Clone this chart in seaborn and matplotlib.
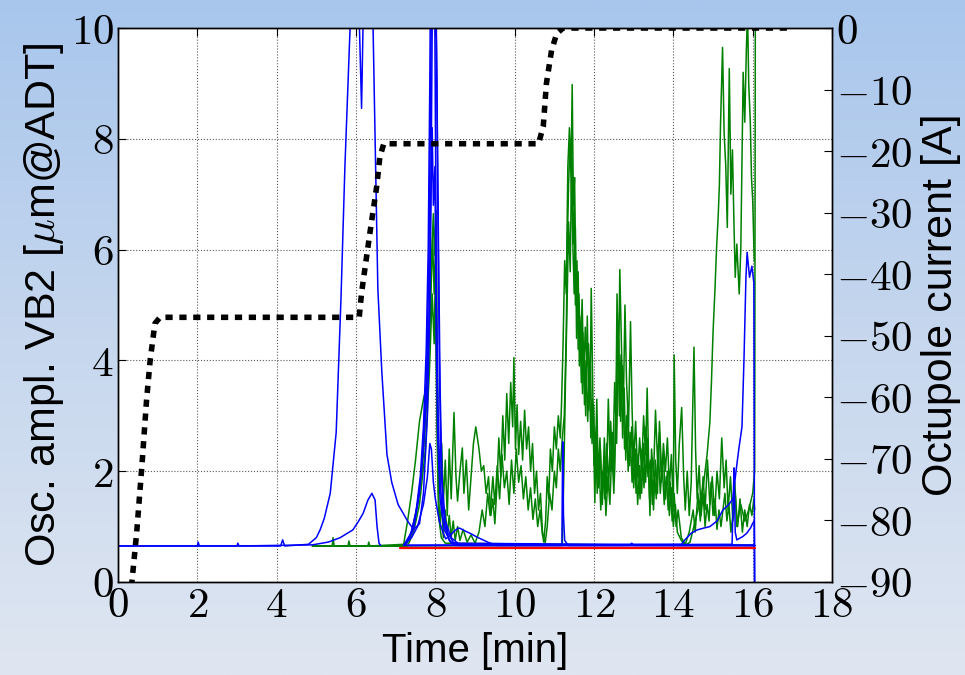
import numpy as np
import pandas as pd
import matplotlib
matplotlib.use("Agg")
import matplotlib.pyplot as plt
from matplotlib.colors import LinearSegmentedColormap
from matplotlib.ticker import FuncFormatter
import seaborn as sns

sns.set_style("white")
plt.rcParams["mathtext.fontset"] = "cm"
plt.rcParams["font.family"] = ["Liberation Sans", "DejaVu Sans"]
for key in ("text.color", "axes.labelcolor", "xtick.color", "ytick.color"):
    plt.rcParams[key] = "black"

# ---- oscillation amplitude traces (time [min], amplitude [um@ADT]) ----
t_blue_a = [0.0, 2.0, 2.02, 2.05, 4.1, 4.15, 4.2, 4.8, 5.0, 5.1, 5.2, 5.35, 5.5, 5.62, 5.72,
            5.85, 5.95, 6.05, 6.14, 6.2, 6.3, 6.43, 6.55, 6.65, 6.78, 6.9, 7.06, 7.3, 7.45,
            7.6, 7.7, 7.8, 7.86, 7.9, 7.93, 8.0, 8.04, 8.08, 8.12, 8.17, 8.25, 8.4, 8.6, 9.0]
v_blue_a = [0.65, 0.65, 0.72, 0.65, 0.65, 0.76, 0.65, 0.68, 0.8, 0.95, 1.15, 1.6, 2.7, 5.1, 7.5,
            10.0, 11.0, 11.0, 8.55, 11.0, 11.0, 10.0, 5.3, 3.8, 2.3, 1.8, 1.4, 1.1, 0.95,
            1.05, 1.6, 3.0, 5.0, 8.0, 11.0, 11.0, 9.0, 6.0, 3.5, 1.8, 1.1, 0.8, 0.68, 0.66]

t_blue_b = [0.0, 3.0, 3.02, 3.05, 4.9, 5.3, 5.6, 5.92, 6.05, 6.18, 6.3, 6.4, 6.48, 6.53, 6.58, 6.62]
v_blue_b = [0.65, 0.65, 0.7, 0.65, 0.67, 0.72, 0.8, 0.94, 1.08, 1.24, 1.48, 1.6, 1.48, 1.0, 0.7, 0.66]

t_blue_c1 = [7.2, 7.4, 7.55, 7.65, 7.72, 7.78, 7.83, 7.87, 7.9, 7.95, 8.02, 8.06, 8.1, 8.14, 8.2,
             8.3, 8.45, 8.6, 16.05]
v_blue_c1 = [0.66, 0.9, 1.4, 2.0, 2.9, 3.8, 5.5, 8.0, 10.5, 11.0, 10.5, 7.0, 4.0, 2.2, 1.3,
             0.9, 0.72, 0.66, 0.66]

t_blue_c2 = [7.2, 7.35, 7.5, 7.62, 7.7, 7.77, 7.82, 7.86, 7.88, 7.98, 8.0, 8.03, 8.07, 8.12, 8.2,
             8.35, 8.5, 16.05]
v_blue_c2 = [0.66, 0.8, 1.2, 1.9, 2.8, 4.2, 6.0, 9.0, 11.0, 11.0, 8.5, 5.0, 3.0, 1.8, 1.1,
             0.75, 0.66, 0.66]

t_blue_c3 = [7.25, 7.45, 7.6, 7.7, 7.78, 7.84, 7.88, 7.92, 7.95, 7.99, 8.02, 8.06, 8.12, 8.22,
             8.4, 16.05]
v_blue_c3 = [0.66, 0.95, 1.6, 2.4, 3.4, 4.8, 6.5, 8.2, 6.8, 7.5, 4.5, 2.6, 1.5, 0.95,
             0.7, 0.66]

t_blue_d = [7.2, 7.4, 7.55, 7.7, 7.8, 7.86, 7.9, 7.95, 8.0, 8.05, 8.1, 8.2, 8.26, 8.35, 8.45,
            8.57, 8.62, 8.75, 8.9, 9.05, 9.2, 9.35, 9.55, 16.05]
v_blue_d = [0.66, 0.8, 1.0, 1.4, 1.9, 2.5, 2.4, 1.8, 1.5, 1.3, 1.1, 0.88, 0.78, 0.82, 0.9,
            0.97, 0.97, 0.92, 0.87, 0.81, 0.76, 0.71, 0.66, 0.66]

t_blue_e = [7.3, 11.19, 11.21, 11.23, 11.26, 11.35, 12.9, 12.95, 13.0, 14.0, 16.05]
v_blue_e = [0.66, 0.66, 2.53, 1.2, 0.75, 0.66, 0.66, 0.7, 0.66, 0.66, 0.66]

t_blue_f = [7.3, 14.2, 14.29, 14.45, 14.6, 14.75, 14.92, 15.1, 15.25, 15.4, 15.5, 15.58, 15.65,
            15.73, 15.78, 15.83, 15.86, 15.92, 15.98, 16.03, 16.05]
v_blue_f = [0.66, 0.68, 0.76, 0.88, 0.94, 0.97, 1.0, 1.1, 1.3, 1.4, 1.5, 2.0, 2.4,
            2.8, 4.0, 5.5, 5.95, 5.5, 5.7, 5.4, -1.0]

t_blue_g = [7.3, 15.48, 15.51, 15.53, 15.56, 15.6, 15.75, 15.85, 15.95, 16.0, 16.04, 16.06]
v_blue_g = [0.66, 0.68, 1.5, 2.06, 0.9, 0.76, 0.82, 0.88, 0.98, 1.06, 1.1, -1.0]

t_green_a = [4.9, 5.4, 5.42, 5.45, 6.3, 6.32, 6.35, 7.2, 7.3, 7.4, 7.5, 7.6, 7.7, 7.8, 7.85,
             7.9, 7.95, 7.98, 8.02, 8.05, 8.08, 8.12, 8.16, 8.2, 8.25, 8.3, 8.35, 8.4, 8.47,
             8.52, 8.56, 8.62, 8.68, 8.72, 8.78, 8.84, 8.9, 8.96, 9.02, 9.06, 9.1, 9.16, 9.22,
             9.28, 9.34, 9.4, 9.45, 9.5, 9.55, 9.6, 9.65, 9.7, 9.75, 9.8, 9.85, 9.9, 9.95,
             9.98, 10.02, 10.06, 10.1, 10.15, 10.2, 10.25, 10.3, 10.35, 10.4, 10.45, 10.5,
             10.55, 10.6, 10.65, 10.7, 10.73, 10.78, 10.82, 10.86, 10.9, 10.95, 11.0, 11.05,
             11.1, 11.15, 11.18, 11.22, 11.26, 11.3, 11.34, 11.38, 11.42, 11.45, 11.48, 11.51,
             11.54, 11.58, 11.62, 11.66, 11.7, 11.74, 11.78, 11.82, 11.86, 11.9, 11.93, 11.97,
             12.02, 12.06, 12.1, 12.15, 12.2, 12.25, 12.3, 12.35, 12.4, 12.45, 12.5, 12.55,
             12.58, 12.62, 12.65, 12.7, 12.74, 12.78, 12.82, 12.87, 12.92, 12.96, 13.0, 13.05,
             13.1, 13.15, 13.2, 13.25, 13.3, 13.34, 13.38, 13.41, 13.45, 13.5, 13.55, 13.6,
             13.65, 13.7, 13.75, 13.8, 13.85, 13.9, 13.95, 14.0, 14.02, 14.06, 14.1, 14.15,
             14.21, 14.26, 14.3, 14.35, 14.4, 14.45, 14.52, 14.56, 14.6, 14.65, 14.7, 14.75,
             14.8, 14.85, 14.9, 14.95, 15.0, 15.05, 15.1, 15.15, 15.2, 15.3, 15.35, 15.4,
             15.45, 15.5, 15.55, 15.6, 15.7, 15.8, 15.9, 16.0, 16.05, 16.07]
v_green_a = [0.65, 0.65, 0.8, 0.65, 0.65, 0.72, 0.65, 0.68, 1.1, 1.6, 2.2, 2.9, 3.3, 3.6, 4.6,
             5.8, 6.65, 5.9, 6.7, 4.0, 2.1, 1.6, 2.5, 1.4, 2.2, 1.2, 2.4, 1.5, 3.06,
             1.9, 1.46, 2.0, 2.42, 1.6, 2.2, 1.3, 1.9, 2.5, 2.8, 2.6, 2.4, 2.0, 2.1,
             1.6, 1.9, 1.2, 1.5, 1.05, 1.7, 2.6, 1.9, 3.0, 2.2, 3.4, 2.5, 3.6, 2.8,
             4.05, 2.4, 3.2, 2.3, 2.9, 2.2, 3.1, 2.4, 2.8, 2.0, 2.5, 1.6,
             2.0, 1.3, 1.6, 0.9, 0.72, 1.1, 1.9, 1.5, 2.4, 2.0, 2.8, 2.4,
             3.0, 2.6, 3.2, 4.3, 5.8, 5.2, 7.5, 8.2, 7.4, 8.98, 6.8, 7.3,
             5.5, 4.6, 5.2, 4.0, 5.1, 3.7, 4.6, 3.9, 4.3, 3.3, 5.3, 3.4,
             1.43, 2.8, 2.0, 2.6, 1.5, 2.2, 1.2, 1.9, 1.4, 2.4, 1.6, 3.0,
             5.2, 3.8, 5.64, 4.0, 3.2, 5.0, 3.6, 2.8, 4.7, 3.1, 2.2, 2.9,
             1.9, 2.6, 2.0, 3.0, 2.3, 3.5, 2.0, 1.2, 2.4, 1.9, 3.1, 2.2,
             2.7, 1.8, 2.5, 2.0, 2.6, 1.7, 2.3, 1.3, 4.1, 2.2, 1.6, 2.5,
             3.15, 1.9, 1.3, 2.0, 1.2, 1.8, 4.24, 2.4, 1.5, 2.1, 1.2, 1.6,
             1.0, 1.4, 1.1, 1.8, 1.2, 1.5, 0.95, 1.3, 1.0, 1.6, 1.1, 1.4,
             0.9, 1.2, 1.8, 1.0, 1.4, 1.1, 1.3, 1.6, 2.0, 12.0]

t_green_b = [4.9, 5.8, 5.82, 5.85, 7.25, 7.4, 7.55, 7.7, 7.8, 7.88, 7.93, 7.97, 8.0, 8.04, 8.08,
             8.12, 8.16, 8.2, 8.25, 8.3, 8.35, 8.4, 8.45, 8.5, 8.56, 8.62, 8.7, 8.8, 8.9, 9.0,
             9.1, 9.18, 9.25, 9.32, 9.38, 9.45, 9.5, 9.56, 9.62, 9.68, 9.74, 9.8, 9.86, 9.92,
             9.98, 10.04, 10.1, 10.16, 10.22, 10.28, 10.34, 10.4, 10.46, 10.52, 10.58, 10.64,
             10.7, 10.77, 10.82, 10.88, 10.94, 11.0, 11.05, 11.1, 11.15, 11.2, 11.25, 11.3,
             11.33, 11.36, 11.4, 11.43, 11.47, 11.5, 11.53, 11.57, 11.6, 11.64, 11.68, 11.72,
             11.76, 11.8, 11.84, 11.88, 11.92, 11.96, 12.0, 12.04, 12.08, 12.12, 12.17, 12.22,
             12.27, 12.32, 12.37, 12.42, 12.47, 12.52, 12.57, 12.62, 12.67, 12.72, 12.77,
             12.82, 12.86, 12.91, 12.96, 13.01, 13.06, 13.11, 13.16, 13.21, 13.26, 13.31,
             13.36, 13.42, 13.47, 13.52, 13.57, 13.62, 13.67, 13.72, 13.77, 13.82, 13.87,
             13.92, 13.97, 14.02, 14.07, 14.12, 14.2, 14.3, 14.4, 14.5, 14.55, 14.62, 14.68,
             14.75, 14.8, 14.86, 14.92, 14.98, 15.04, 15.1, 15.16, 15.22, 15.28, 15.33, 15.38,
             15.44, 15.5, 15.56, 15.62, 15.68, 15.74, 15.8, 15.86, 15.92, 15.98, 16.03, 16.05]
v_green_b = [0.65, 0.65, 0.74, 0.65, 0.65, 0.9, 1.4, 2.3, 3.5, 5.0, 6.2, 5.2, 6.0, 3.2, 1.6,
             1.0, 1.5, 0.8, 1.3, 0.85, 1.2, 0.8, 1.1, 0.75, 1.0, 0.75, 0.95, 0.72, 0.85, 0.7,
             0.9, 1.3, 1.0, 1.6, 1.2, 1.9, 1.4, 2.1, 1.5, 2.3, 1.7, 2.0, 1.4, 2.2,
             1.6, 2.4, 1.8, 2.1, 1.5, 1.9, 1.3, 1.7, 1.13, 1.5, 1.0, 1.3,
             0.85, 0.71, 1.0, 1.6, 1.3, 2.0, 1.7, 2.4, 2.0, 2.6, 3.0, 4.5,
             6.2, 7.2, 8.0, 7.0, 6.1, 6.9, 5.0, 5.8, 4.2, 4.8, 3.6, 4.5,
             3.2, 4.0, 2.9, 3.8, 2.6, 3.3, 2.1, 2.7, 1.6, 2.3, 1.3, 2.0,
             1.5, 2.5, 1.7, 2.9, 2.0, 3.6, 2.5, 4.4, 2.9, 3.9, 2.4,
             3.0, 2.0, 2.7, 1.8, 2.5, 1.6, 2.3, 1.5, 2.4, 1.7, 2.8,
             1.9, 2.2, 1.4, 2.0, 1.5, 2.4, 1.6, 2.1, 1.4, 1.9, 1.3,
             1.8, 1.1, 1.6, 1.0, 1.3, 0.8, 0.68, 0.9, 1.3, 0.9, 1.6, 1.1,
             1.9, 1.3, 2.2, 1.4, 1.9, 1.2, 2.0, 1.5, 2.6, 1.7, 2.2, 1.3,
             1.9, 1.1, 1.6, 1.0, 1.5, 0.9, 1.3, 1.0, 1.4, 1.2, 1.5, 1.3]

t_green_c = [4.9, 7.3, 7.45, 7.6, 7.75, 7.85, 7.92, 7.97, 8.0, 8.04, 8.08, 8.15, 8.25, 14.3,
             14.42, 14.55, 14.65, 14.76, 14.85, 14.92, 14.96, 15.0, 15.05, 15.09, 15.13, 15.16,
             15.19, 15.24, 15.28, 15.32, 15.36, 15.41, 15.45, 15.49, 15.53, 15.56, 15.6, 15.66,
             15.7, 15.76, 15.8, 15.84, 15.87, 15.9, 15.94, 15.97, 16.0, 16.04]
v_green_c = [0.65, 0.65, 0.9, 1.4, 2.4, 3.8, 5.2, 4.3, 5.6, 2.8, 1.2, 0.8, 0.7, 0.66,
             0.72, 1.1, 1.4, 1.76, 2.3, 2.88, 3.6, 4.5, 5.3, 6.04, 6.6, 7.16,
             8.28, 9.65, 8.1, 7.53, 6.4, 9.27, 7.0, 7.8, 6.4, 5.5, 6.1, 5.2,
             6.0, 9.2, 8.3, 9.6, 10.3, 9.0, 8.3, 7.3, 6.9, 5.8]

t_green_d = [4.9, 11.2, 11.24, 11.28, 11.32, 11.36, 11.4, 11.44, 11.47, 11.5,
             11.53, 11.56, 11.6, 11.63, 11.67, 11.71, 11.75, 11.79, 11.83, 11.87,
             11.91, 11.95, 11.99, 12.03, 12.07, 12.11, 12.16, 12.21, 12.26, 12.31,
             12.36, 12.41, 12.46, 12.51, 12.56, 12.6, 12.64, 12.68, 12.72, 12.76,
             12.8, 12.85, 12.9, 12.95, 13.0, 13.05, 13.1, 13.15, 13.2, 13.25,
             13.3, 13.35, 13.4, 13.45, 13.5, 13.55, 13.6, 13.65, 13.7, 13.75,
             13.8, 13.85, 13.9, 13.95, 14.0, 14.05, 14.1, 14.2, 14.3, 16.05]
v_green_d = [0.65, 0.66, 2.0, 3.6, 5.0, 6.5, 5.6, 7.9, 6.0, 5.2,
             6.4, 4.4, 5.6, 3.9, 4.7, 3.4, 4.2, 3.0, 4.8, 3.1,
             3.9, 2.5, 3.2, 2.0, 3.3, 1.7, 2.4, 1.4, 2.6, 1.6,
             3.3, 2.0, 2.7, 1.8, 3.4, 4.6, 3.0, 4.1, 2.6, 3.5,
             2.2, 3.2, 2.1, 2.8, 1.7, 2.4, 1.4, 2.1, 1.6, 2.5,
             1.8, 2.6, 1.5, 2.1, 1.3, 2.2, 1.6, 2.9, 2.0, 2.3,
             1.5, 2.0, 1.2, 1.7, 1.0, 1.4, 0.9, 0.75, 0.66, 0.66]

t_red = [7.1, 16.05]
v_red = [0.62, 0.62]

# ---- octupole current (time [min], current [A]) ----
t_oct = [0.28, 0.35, 0.47, 0.6, 0.72, 0.81, 0.93, 1.06, 6.08, 6.14, 6.35, 6.52, 6.6, 6.7,
         10.6, 10.72, 10.8, 10.93, 11.06, 11.22, 16.9]
i_oct = [-93, -90, -82, -71.3, -60.4, -54, -48, -47, -47, -43, -33.3, -25.8, -21, -18.8,
         -18.8, -16, -9, -3.6, -0.9, 0, 0]

x_ticks = [0, 2, 4, 6, 8, 10, 12, 14, 16, 18]
y_ticks = [0, 2, 4, 6, 8, 10]
i_ticks = [-90, -80, -70, -60, -50, -40, -30, -20, -10, 0]

traces = [
    ("g1", t_green_a, v_green_a, "green"),
    ("g2", t_green_b, v_green_b, "green"),
    ("g3", t_green_c, v_green_c, "green"),
    ("g4", t_green_d, v_green_d, "green"),
    ("b1", t_blue_a, v_blue_a, "blue"),
    ("b2", t_blue_b, v_blue_b, "blue"),
    ("b3", t_blue_c1, v_blue_c1, "blue"),
    ("b4", t_blue_c2, v_blue_c2, "blue"),
    ("b5", t_blue_c3, v_blue_c3, "blue"),
    ("b6", t_blue_d, v_blue_d, "blue"),
    ("b7", t_blue_e, v_blue_e, "blue"),
    ("b8", t_blue_f, v_blue_f, "blue"),
    ("b9", t_blue_g, v_blue_g, "blue"),
]
color_of = {"green": "#008000", "blue": "#0000ff"}
frames = [pd.DataFrame({"time": t, "amp": v, "trace": name}) for name, t, v, _ in traces]
df = pd.concat(frames, ignore_index=True)
palette = {name: color_of[c] for name, _, _, c in traces}
order = [name for name, _, _, _ in traces]

df_red = pd.DataFrame({"time": t_red, "amp": v_red})
df_oct = pd.DataFrame({"time": t_oct, "current": i_oct})

fig = plt.figure(figsize=(9.65, 6.75), dpi=100)

# slide-style vertical gradient behind the plot
bg = fig.add_axes([0, 0, 1, 1], zorder=-10)
grad_cmap = LinearSegmentedColormap.from_list("slide", ["#a8c6ec", "#c6d7ee", "#dfe6f1"])
bg.imshow(np.linspace(0, 1, 256).reshape(-1, 1), aspect="auto", cmap=grad_cmap,
          extent=[0, 1, 0, 1], origin="upper")
bg.set_axis_off()

ax = fig.add_axes([0.1223, 0.1378, 0.7399, 0.8207])
ax.set_facecolor("white")

sns.lineplot(data=df, x="time", y="amp", hue="trace", hue_order=order, palette=palette,
             estimator=None, sort=False, legend=False, linewidth=1.1, ax=ax)
sns.lineplot(data=df_red, x="time", y="amp", color="#ff0000", estimator=None, sort=False,
             linewidth=1.6, ax=ax)

ax.set_xlim(0, 18)
ax.set_ylim(0, 10)
ax.set_xticks(x_ticks)
ax.set_yticks(y_ticks)
ax.grid(True, linestyle=":", color="0.35", linewidth=0.8)

tick_fmt = FuncFormatter(lambda v, p: f"${v:g}$")
ax.xaxis.set_major_formatter(tick_fmt)
ax.yaxis.set_major_formatter(tick_fmt)
ax.tick_params(axis="both", which="both", direction="in", length=6, width=0.8,
               labelsize=31, top=True, right=False, pad=3)
for s in ax.spines.values():
    s.set_color("black")
    s.set_linewidth(1.0)

ax.set_xlabel("Time [min]", fontsize=29, labelpad=4)
ax.set_ylabel(r"Osc. ampl. VB2 [$\mu$m@ADT]", fontsize=31, labelpad=3)

ax2 = ax.twinx()
sns.lineplot(data=df_oct, x="time", y="current", color="black", estimator=None, sort=False,
             linewidth=4.0, linestyle=(0, (1.3, 1.2)), ax=ax2)
ax2.set_ylim(-90, 0)
ax2.set_yticks(i_ticks)
ax2.yaxis.set_major_formatter(tick_fmt)
ax2.tick_params(axis="y", direction="in", length=6, width=0.8, labelsize=31, pad=3)
ax2.set_ylabel("Octupole current [A]", fontsize=31, labelpad=6)
ax2.set_xlim(0, 18)
ax2.grid(False)
for s in ax2.spines.values():
    s.set_color("black")
    s.set_linewidth(1.0)

fig.savefig("out.png", dpi=100)
